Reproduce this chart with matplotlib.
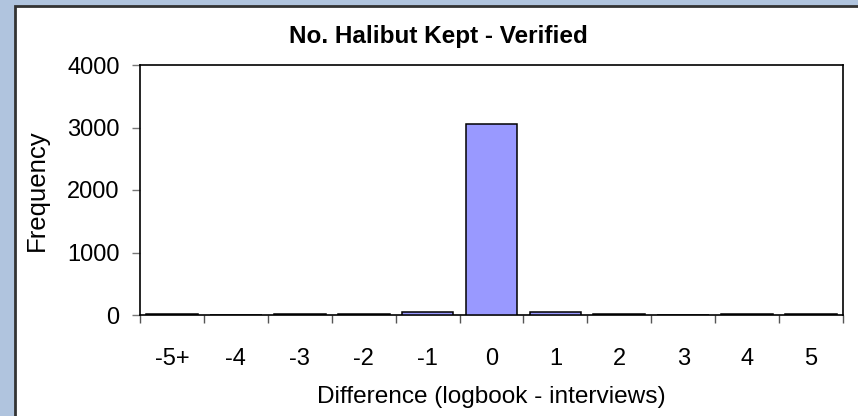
import matplotlib.pyplot as plt
from matplotlib.patches import Rectangle
import numpy as np

plt.rcParams['font.family'] = ['Liberation Sans', 'DejaVu Sans']

categories = ["-5+", "-4", "-3", "-2", "-1", "0", "1", "2", "3", "4", "5"]
frequency = [20, 0, 20, 20, 48, 3060, 48, 20, 0, 20, 20]
y_ticks = [0, 1000, 2000, 3000, 4000]

fig = plt.figure(figsize=(8.58, 4.16), dpi=100)
fig.patch.set_facecolor("#b0c4de")

# white chart panel with dark border on left/top
panel = Rectangle((14.5 / 858, -0.05), 1.1, 1 - 5.5 / 416 + 0.05,
                  transform=fig.transFigure, facecolor="white",
                  edgecolor="#333333", linewidth=2, zorder=-1)
fig.patches.append(panel)

ax = fig.add_axes([140 / 858, 1 - 315 / 416, (843 - 140) / 858, (315 - 65) / 416])
x = np.arange(len(categories))
ax.bar(x, frequency, width=0.81, color="#9999ff", edgecolor="black",
       linewidth=1.1, zorder=3)

ax.set_xlim(-0.5, len(categories) - 0.5)
ax.set_ylim(0, 4000)
ax.set_yticks(y_ticks)
ax.set_yticklabels([str(v) for v in y_ticks], fontsize=17)
ax.set_xticks(x)
ax.set_xticklabels(categories, fontsize=17)
ax.set_xticks(np.arange(-0.5, len(categories)), minor=True)

ax.tick_params(axis="x", which="major", length=0, pad=23.5)
ax.tick_params(axis="x", which="minor", length=5.5, width=1, color="#555555")
ax.tick_params(axis="y", length=6, width=1, color="#777777", pad=8.6)

for side in ["left", "bottom", "top", "right"]:
    ax.spines[side].set_color("black")
    ax.spines[side].set_linewidth(1.2)

fig.text(438 / 858, 1 - 36 / 416, "No. Halibut Kept - Verified",
         ha="center", va="center", fontsize=17.5, fontweight="bold")
fig.text(37 / 858, 1 - 190 / 416, "Frequency", rotation=90,
         ha="center", va="center", fontsize=18.5)
fig.text(491 / 858, 1 - 397 / 416, "Difference (logbook - interviews)",
         ha="center", va="center", fontsize=17.6)

fig.savefig("out.png", dpi=100, facecolor=fig.get_facecolor())
